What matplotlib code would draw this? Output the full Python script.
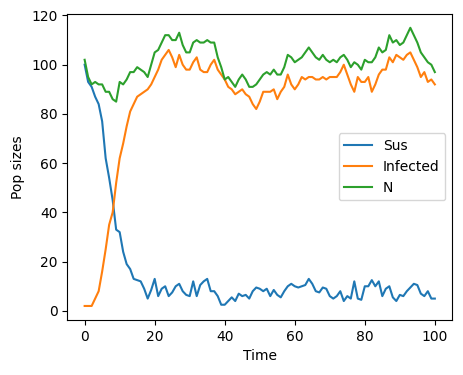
import numpy as np
import matplotlib
matplotlib.use("Agg")
import matplotlib.pyplot as plt

# temps (pas de 1)
temps = np.arange(0, 101)

sus = [100, 93, 91, 87, 84, 77, 62, 54, 45, 33,
       32, 24, 19, 17, 13, 12.5, 12, 9, 5, 8.5,
       13, 6, 9, 10, 6, 7.5, 10, 11, 8, 6.5,
       6, 12, 6, 10.5, 12, 13, 8, 8, 6, 2.5,
       2.5, 4, 5.5, 4, 7, 6, 6.5, 5, 8, 9.5,
       9, 8, 9, 6, 8.5, 6.5, 5.5, 8, 10, 11,
       10, 9.5, 10, 10.5, 13, 11, 8, 7.5, 9.5, 9,
       6, 5, 6, 8, 4, 6, 5, 12, 5, 4.5,
       10, 10, 12.5, 10, 12, 6, 9, 10, 5.5, 4,
       6.5, 6, 8, 9.5, 11, 10.5, 7, 6, 8, 5, 5]

infected = [2, 2, 2, 5, 8, 16, 25, 35, 40, 52,
            62, 68, 75, 81, 84, 87, 88, 89, 90, 92,
            95, 98, 102, 104, 106, 103, 99, 104, 100, 98,
            98, 101, 103, 98, 97, 97, 100, 102, 98, 96,
            94, 91, 90, 88, 89, 90, 88, 87, 84, 82,
            85, 89, 89, 89, 90, 86, 89, 91, 96, 92,
            90, 92, 95, 94, 95, 95, 94, 94, 95, 94,
            95, 95, 95, 97, 100, 96, 92, 89, 95, 93,
            93, 95, 89, 92, 96, 98, 98, 103, 101, 104,
            103, 102, 104, 105, 102, 99, 95, 97, 93, 94, 92]

total = [102, 95, 92, 93, 92, 92, 89, 89, 86, 85,
         93, 92, 94, 97, 97, 99, 98, 97, 95, 100,
         105, 106, 109, 112, 112, 110, 110, 113, 108, 105,
         105, 109, 110, 109, 109, 110, 109, 109, 103, 99,
         94, 95, 93, 91, 94, 96, 94, 91, 91, 92,
         94, 96, 97, 96, 98, 96, 96, 99, 104, 103,
         101, 102, 103, 105, 107, 105, 103, 102, 104, 102,
         101, 102, 101, 103, 104, 102, 99, 101, 100, 98,
         102, 101, 101, 103, 107, 105, 106, 112, 109, 110,
         108, 109, 112, 115, 112, 109, 105, 103, 101, 100, 97]

fig, ax = plt.subplots(figsize=(4.63, 3.75), dpi=100)
fig.subplots_adjust(left=0.145, right=0.977, top=0.963, bottom=0.147)

ax.plot(temps, sus, label='Sus')
ax.plot(temps, infected, label='Infected')
ax.plot(temps, total, label='N')

ax.set_xlabel('Time')
ax.set_ylabel('Pop sizes')
ax.legend(loc='center right')

plt.savefig('out.png', dpi=100)
